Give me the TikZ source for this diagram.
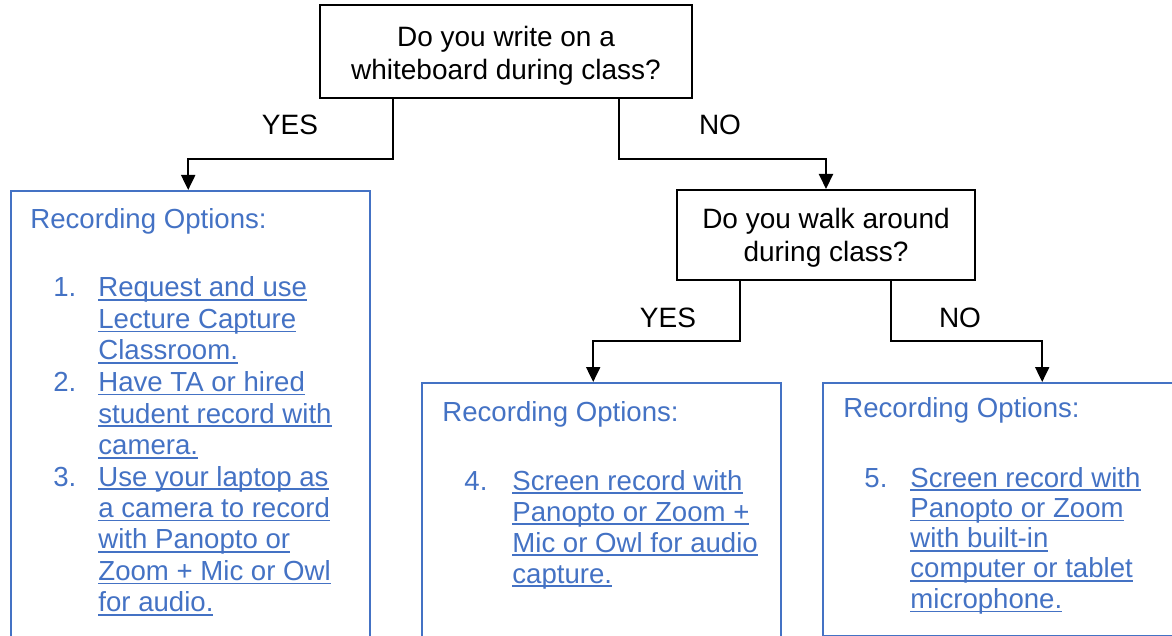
\documentclass[tikz,border=0pt]{standalone}
\usepackage{fontspec}
\setmainfont{Liberation Sans}
\usetikzlibrary{arrows.meta}
\definecolor{optblue}{HTML}{4472C4}
\newcommand{\lnk}[1]{\setbox0\hbox{#1}\rlap{\rule[-2pt]{\wd0}{0.8pt}}\box0}

\begin{document}
\begin{tikzpicture}[x=0.5pt, y=-0.5pt,
  qbox/.style={draw, line width=1pt, align=center, inner sep=0pt, font=\fontsize{14}{16.5}\selectfont},
  optbox/.style={draw=optblue, line width=1.2pt, anchor=north west, inner sep=0pt},
  opthead/.style={anchor=base west, inner sep=0pt, text=optblue, font=\fontsize{13.8}{15.8}\selectfont},
  optlist/.style={anchor=base west, inner sep=0pt, text=optblue, font=\fontsize{13.8}{#1}\selectfont},
  lbl/.style={font=\fontsize{14}{16}\selectfont, inner sep=0pt},
  arr/.style={-{Triangle[length=7.5pt, width=7pt]}, line width=1pt}
]
\useasboundingbox (0,0) rectangle (1172,636);
\clip (0,0) rectangle (1172,636);

% questions
\node[qbox, minimum width=186pt, minimum height=46.5pt] (q1) at (506,51.5)
  {\rule{0pt}{14pt}Do you write on a\\whiteboard during class?};
\node[qbox, minimum width=149pt, minimum height=45pt] (q2) at (826,235)
  {\rule{0pt}{13pt}Do you walk around\\during class?};

% option boxes
\node[optbox, minimum width=179.5pt, minimum height=240pt] (optsA) at (10,190) {};
\node[optbox, minimum width=179.5pt, minimum height=150pt] (optsB) at (421,382) {};
\node[optbox, minimum width=219pt, minimum height=126.5pt] (optsC) at (822,382) {};

\node[opthead] (hA) at (30,228) {Recording Options:};
\node[opthead] (hB) at (442,421) {Recording Options:};
\node[opthead] (hC) at (843,417) {Recording Options:};

\node[optlist=15.75] (lA) at (53,297) {\begin{tabular}[t]{@{}p{22.5pt}@{}l@{}}
1. & \lnk{Request and use}\\
   & \lnk{Lecture Capture}\\
   & \lnk{Classroom.}\\
2. & \lnk{Have TA or hired}\\
   & \lnk{student record with}\\
   & \lnk{camera.}\\
3. & \lnk{Use your laptop as}\\
   & \lnk{a camera to record}\\
   & \lnk{with Panopto or}\\
   & \lnk{Zoom + Mic or Owl}\\
   & \lnk{for audio.}
\end{tabular}};
\node[optlist=15.5] (lB) at (464,490) {\begin{tabular}[t]{@{}p{24pt}@{}l@{}}
4. & \lnk{Screen record with}\\
   & \lnk{Panopto or Zoom +}\\
   & \lnk{Mic or Owl for audio}\\
   & \lnk{capture.}
\end{tabular}};
\node[optlist=15.15] (lC) at (864,487) {\begin{tabular}[t]{@{}p{23pt}@{}l@{}}
5. & \lnk{Screen record with}\\
   & \lnk{Panopto or Zoom}\\
   & \lnk{with built-in}\\
   & \lnk{computer or tablet}\\
   & \lnk{microphone.}
\end{tabular}};

% connectors
\draw[arr] ([xshift=-56.5pt]q1.south) -- ++(0,60) -| ([xshift=-1.25pt]optsA.north);
\draw[arr] ([xshift=56.5pt]q1.south) -- ++(0,60) -| (q2.north);
\draw[arr] ([xshift=-43pt]q2.south) -- ++(0,60) -| ([xshift=-4.25pt]optsB.north);
\draw[arr] ([xshift=32.5pt]q2.south) -- ++(0,60) -| (optsC.north);

\node[lbl] (yesA) at (290,125) {YES};
\node[lbl] (noA) at (720,125) {NO};
\node[lbl] (yesB) at (668,318) {YES};
\node[lbl] (noB) at (960,318) {NO};
\end{tikzpicture}
\end{document}
